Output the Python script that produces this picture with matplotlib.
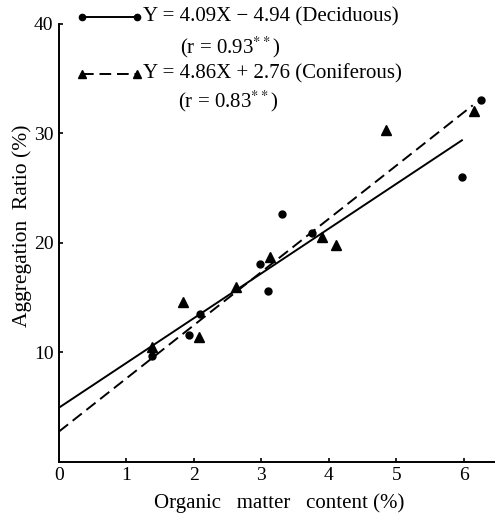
import matplotlib
matplotlib.use("Agg")
import matplotlib.pyplot as plt
import numpy as np

plt.rcParams["font.family"] = ["Liberation Serif", "DejaVu Serif"]
plt.rcParams["mathtext.fontset"] = "stix"

# deciduous stands (circles)
dec_x = [1.38, 1.93, 2.09, 2.98, 3.10, 3.30, 3.75, 5.97, 6.25]
dec_y = [9.7, 11.6, 13.5, 18.1, 15.6, 22.6, 20.9, 26.0, 33.0]
# coniferous stands (triangles)
con_x = [1.38, 1.84, 2.07, 2.62, 3.13, 3.90, 4.10, 4.85, 6.15]
con_y = [10.5, 14.6, 11.4, 16.0, 18.7, 20.5, 19.8, 30.3, 32.0]

# regression lines: slope, intercept, drawn range
dec_fit = (4.09, 4.94, 5.97)
con_fit = (4.86, 2.76, 6.13)

xticks = [0, 1, 2, 3, 4, 5, 6]
yticks = [10, 20, 30, 40]

fig = plt.figure(figsize=(4.95, 5.16), dpi=100)
ax = fig.add_axes([0.119, 0.105, 0.881, 0.849])

for (slope, icpt, xend), ls in [(dec_fit, "-"), (con_fit, "--")]:
    xs = np.array([0, xend])
    line, = ax.plot(xs, slope * xs + icpt, color="black", lw=1.4, linestyle=ls)
    if ls == "--":
        line.set_dashes((6, 3))

ax.plot(dec_x, dec_y, "o", color="black", ms=5, clip_on=False)
ax.plot(con_x, con_y, "^", color="black", ms=6.5, clip_on=False)

ax.set_xlim(0, 6.46)
ax.set_ylim(0, 40)
ax.set_xticks(xticks)
ax.set_yticks(yticks)
ax.tick_params(direction="in", length=3, width=1.2, labelsize=14, pad=4)
for side in ("top", "right"):
    ax.spines[side].set_visible(False)
for side in ("left", "bottom"):
    ax.spines[side].set_linewidth(1.4)

ax.set_xlabel("Organic   matter   content (%)", fontsize=15)
ax.xaxis.set_label_coords(0.505, -0.072)
ax.set_ylabel("Aggregation  Ratio (%)", fontsize=15.5, va="center")
ax.yaxis.set_label_coords(-0.085, 0.54)

# key drawn above the plot area
tf = fig.transFigure
fig.add_artist(plt.Line2D([0.166, 0.277], [0.967, 0.967], transform=tf,
                          color="black", lw=1.4, marker="o", ms=4.5))
key2 = plt.Line2D([0.166, 0.277], [0.857, 0.857], transform=tf,
                  color="black", lw=1.4, marker="^", ms=5.5)
key2.set_dashes((6, 3))
fig.add_artist(key2)

fs = 15
fig.text(0.289, 0.967, "Y = 4.09X − 4.94 (Deciduous)", fontsize=fs, va="center")
fig.text(0.364, 0.909, r"(r = 0.93$^{**}$)", fontsize=fs, va="center")
fig.text(0.289, 0.857, "Y = 4.86X + 2.76 (Coniferous)", fontsize=fs, va="center")
fig.text(0.360, 0.804, r"(r = 0.83$^{**}$)", fontsize=fs, va="center")

fig.savefig("out.png", dpi=100)
